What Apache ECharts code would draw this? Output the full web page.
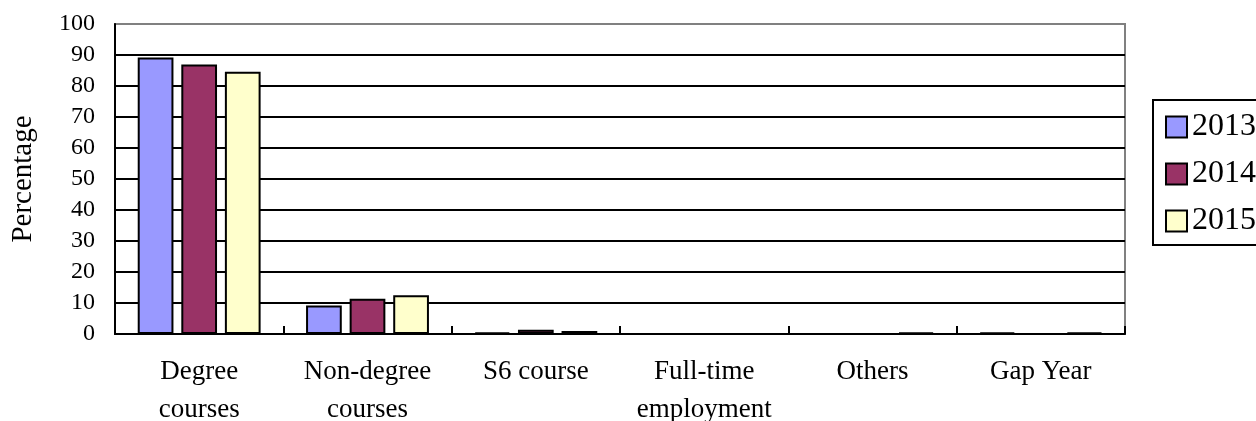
<!DOCTYPE html>
<html>
<head>
<meta charset="utf-8">
<script src="https://cdn.jsdelivr.net/npm/echarts@6/dist/echarts.min.js"></script>
<style>
  html, body { margin: 0; padding: 0; background: #fff; }
  #chart { width: 1256px; height: 421px; }
</style>
</head>
<body>
<div id="chart"></div>
<script>
// Destinations of graduates, percentage by year
const categories = ['Degree\ncourses', 'Non-degree\ncourses', 'S6 course', 'Full-time\nemployment', 'Others', 'Gap Year'];
const years = ['2013', '2014', '2015'];
const values2013 = [89.2, 9.2, 0.5, 0, 0, 0.5];
const values2014 = [86.9, 11.4, 1.4, 0, 0, 0];
const values2015 = [84.6, 12.5, 1.0, 0, 0.5, 0.5];
const yTicks = [0, 10, 20, 30, 40, 50, 60, 70, 80, 90, 100];

const colors = ['#9999FF', '#993366', '#FFFFCC'];
const serif = "'Liberation Serif', 'DejaVu Serif', serif";

function barSeries(name, data, color) {
  return {
    name: name,
    type: 'bar',
    data: data,
    barGap: '22%',
    barCategoryGap: '27%',
    itemStyle: { color: color, borderColor: '#000', borderWidth: 2 }
  };
}

const chart = echarts.init(document.getElementById('chart'));
chart.setOption({
  animation: false,
  backgroundColor: '#fff',
  grid: {
    left: 115, right: 131, top: 24, bottom: 87,
    containLabel: false,
    outerBoundsMode: 'none',
    show: true, borderColor: '#808080', borderWidth: 2
  },
  legend: {
    data: years,
    orient: 'vertical',
    left: 1153,
    top: 100,
    padding: [11, 12, 8, 12],
    itemGap: 15,
    itemWidth: 21,
    itemHeight: 21,
    icon: 'rect',
    borderColor: '#000',
    borderWidth: 2,
    textStyle: { fontFamily: serif, fontSize: 32, color: '#000', lineHeight: 32 }
  },
  xAxis: {
    type: 'category',
    data: categories,
    axisLine: { lineStyle: { color: '#000', width: 2 } },
    axisTick: { show: true, inside: true, length: 8, lineStyle: { color: '#000', width: 2 } },
    axisLabel: {
      interval: 0, margin: 19, color: '#000',
      fontFamily: serif, fontSize: 27, lineHeight: 38
    }
  },
  yAxis: {
    type: 'value',
    min: yTicks[0],
    max: yTicks[yTicks.length - 1],
    interval: yTicks[1] - yTicks[0],
    name: 'Percentage',
    nameLocation: 'middle',
    nameGap: 77,
    nameTextStyle: { fontFamily: serif, fontSize: 29, color: '#000' },
    axisLine: { show: true, lineStyle: { color: '#000', width: 2 } },
    axisTick: { show: false },
    axisLabel: { margin: 20, color: '#000', fontFamily: serif, fontSize: 24 },
    splitLine: {
      lineStyle: {
        width: 2,
        color: ['#000', '#000', '#000', '#000', '#000', '#000', '#000', '#000', '#000', '#000', '#808080']
      }
    }
  },
  series: [
    barSeries(years[0], values2013, colors[0]),
    barSeries(years[1], values2014, colors[1]),
    barSeries(years[2], values2015, colors[2])
  ]
});
</script>
</body>
</html>
